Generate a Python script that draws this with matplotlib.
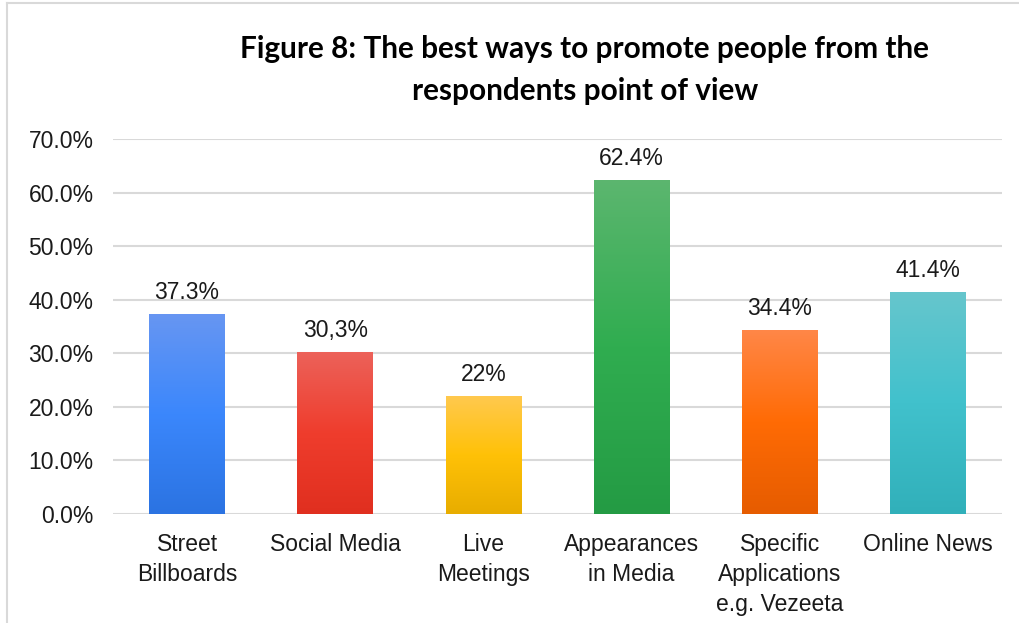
import numpy as np
import matplotlib.pyplot as plt
from matplotlib.colors import LinearSegmentedColormap
from matplotlib.lines import Line2D

categories = ["Street\nBillboards", "Social Media", "Live\nMeetings",
              "Appearances\nin Media", "Specific\nApplications\ne.g. Vezeeta",
              "Online News"]
values = [37.3, 30.3, 22.0, 62.4, 34.4, 41.4]
value_labels = ["37.3%", "30,3%", "22%", "62.4%", "34.4%", "41.4%"]
yticks = [0, 10, 20, 30, 40, 50, 60, 70]

# top / middle / bottom shades for each bar
gradients = [
    ("#6796f2", "#3b87fc", "#2b73e2"),
    ("#ec625a", "#ef3d2d", "#e02f1f"),
    ("#ffc94e", "#ffc107", "#e8ad00"),
    ("#5cb66f", "#30ad50", "#249b44"),
    ("#ff8748", "#ff6b05", "#e65c00"),
    ("#66c6cd", "#41c1cc", "#31b0ba"),
]

FS = 16.5

fig = plt.figure(figsize=(10.19, 6.23), dpi=100)
ax = fig.add_axes([113 / 1019, 1 - 514 / 623, 889 / 1019, 375 / 623])

x = np.arange(len(categories))
bars = ax.bar(x, values, width=0.51, color="none", zorder=2)

ramp = np.linspace(0, 1, 256).reshape(-1, 1)
for bar, shades in zip(bars, gradients):
    cmap = LinearSegmentedColormap.from_list("g", list(shades))
    x0, y0 = bar.get_x(), bar.get_y()
    im = ax.imshow(ramp, cmap=cmap, aspect="auto", origin="upper",
                   extent=(x0, x0 + bar.get_width(), y0, y0 + bar.get_height()),
                   zorder=2)
    im.set_clip_path(bar)

for xi, v, lab in zip(x, values, value_labels):
    ax.annotate(lab, (xi, v), xytext=(0, 7), textcoords="offset points",
                ha="center", va="bottom", fontsize=FS,
                family="Liberation Sans", color="#1a1a1a")

ax.set_xlim(-0.5, len(categories) - 0.5)
ax.set_ylim(0, 70)
ax.set_yticks(yticks)
ax.set_yticklabels([f"{t:.1f}%" for t in yticks], fontsize=FS,
                   family="Liberation Sans", color="#1a1a1a")
ax.set_xticks(x)
ax.set_xticklabels(categories, fontsize=FS, family="Liberation Sans",
                   color="#1a1a1a", linespacing=1.4, va="top")
ax.tick_params(length=0)
ax.tick_params(axis="y", pad=14)
ax.tick_params(axis="x", pad=13.5)
ax.yaxis.grid(True, color="#d9d9d9", linewidth=1.5, zorder=0)
ax.set_axisbelow(True)
for s in ax.spines.values():
    s.set_visible(False)

fig.text(585 / 1019, 1 - 70 / 623,
         "Figure 8: The best ways to promote people from the\nrespondents point of view",
         ha="center", va="center", fontsize=21.4, fontweight="bold",
         family="Lato", linespacing=1.62)

# chart frame
fig.add_artist(Line2D([7 / 1019, 1], [1 - 3 / 623, 1 - 3 / 623],
                      transform=fig.transFigure, color="#d9d9d9", lw=1.5))
fig.add_artist(Line2D([7 / 1019, 7 / 1019], [0, 1 - 3 / 623],
                      transform=fig.transFigure, color="#d9d9d9", lw=1.5))

fig.savefig("out.png", dpi=100)
